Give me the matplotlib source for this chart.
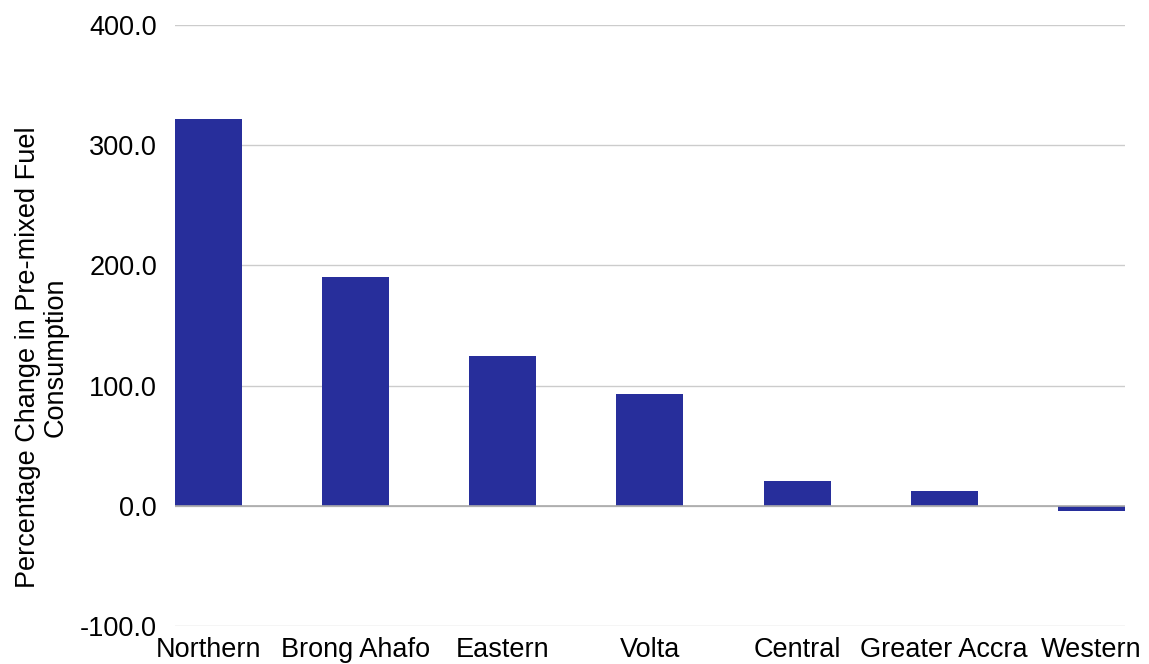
import matplotlib.pyplot as plt
import numpy as np

plt.rcParams['font.family'] = ['Liberation Sans', 'DejaVu Sans']

regions = ['Northern', 'Brong Ahafo', 'Eastern', 'Volta', 'Central', 'Greater Accra', 'Western']
pct_change = [321.5, 190.0, 125.0, 93.0, 20.3, 12.5, -4.5]
y_ticks = [-100, 0, 100, 200, 300, 400]

fig = plt.figure(figsize=(11.49, 6.64), dpi=100)
ax = fig.add_axes([0.1523, 0.0572, 0.8267, 0.9051])

x = np.arange(len(regions))
ax.bar(x, pct_change, width=0.456, color='#272E9B', zorder=3)

ax.set_xlim(-0.228, len(regions) - 1 + 0.228)
ax.set_ylim(-100, 400)
ax.set_yticks(y_ticks)
ax.set_yticklabels(['{:.1f}'.format(v) for v in y_ticks])
ax.set_xticks(x)
ax.set_xticklabels(regions)

ax.grid(axis='y', color='#cccccc', linewidth=1, zorder=0)
ax.axhline(0, color='#aaaaaa', linewidth=1.2, zorder=4)
for s in ax.spines.values():
    s.set_visible(False)
ax.tick_params(axis='both', length=0, labelsize=19.5, colors='#000000')
ax.tick_params(axis='y', pad=13)
ax.tick_params(axis='x', pad=8)

ax.set_ylabel('Percentage Change in Pre-mixed Fuel\nConsumption', fontsize=19.5, labelpad=8,
              linespacing=1.1, y=0.447)

fig.savefig('out.png', dpi=100)
